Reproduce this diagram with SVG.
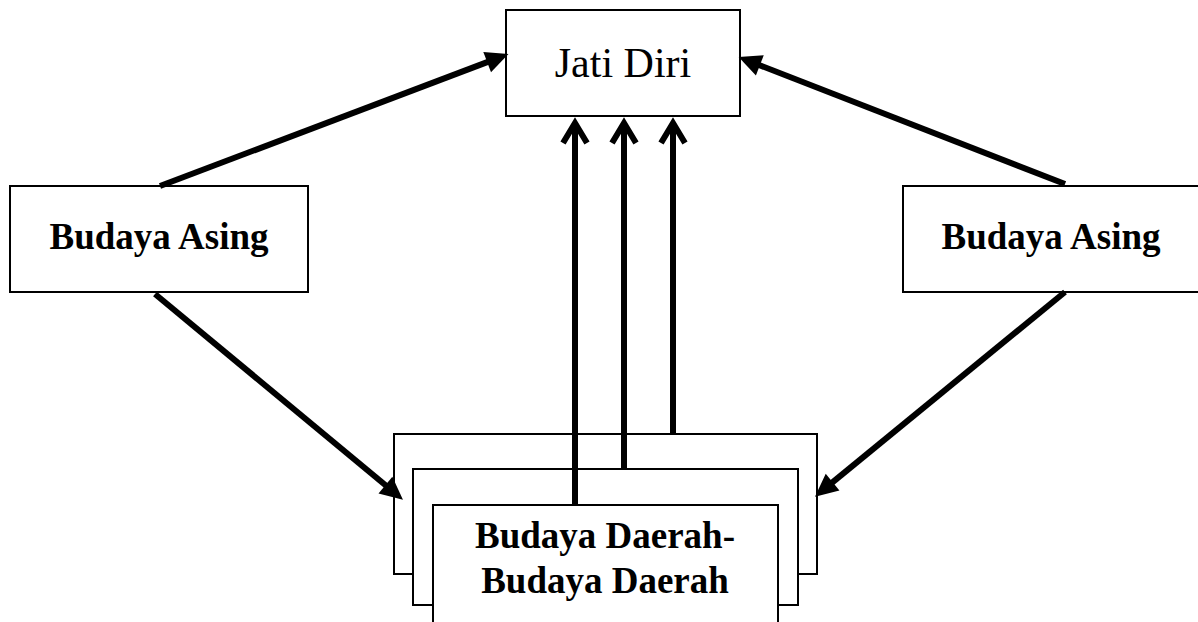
<svg xmlns="http://www.w3.org/2000/svg" width="1198" height="622" viewBox="0 0 1198 622">
<style>
.box{fill:#fff;stroke:#000;stroke-width:2}
.t{font-family:"Liberation Serif","Times New Roman",serif;fill:#000;text-anchor:middle}
.b{font-weight:bold;font-size:37px}
.c{stroke:#000;stroke-width:6;fill:none}
</style>
<defs>
<marker id="tri" markerUnits="userSpaceOnUse" markerWidth="26" markerHeight="26" viewBox="0 -11 24 22" refX="2" refY="0" orient="auto" overflow="visible">
<path d="M0,-10 L21,0 L0,10 Z" fill="#000"/>
</marker>
<marker id="chev" markerUnits="userSpaceOnUse" markerWidth="30" markerHeight="30" viewBox="-25 -15 30 30" refX="0" refY="0" orient="auto" overflow="visible">
<path d="M-20,-12 L0,0 L-20,12" fill="none" stroke="#000" stroke-width="6" stroke-linejoin="miter"/>
</marker>
</defs>
<rect width="1198" height="622" fill="#fff"/>
<g id="node-jati-diri">
<rect class="box" x="506" y="10" width="234" height="106"/>
<text class="t" x="623" y="77" font-size="42">Jati Diri</text>
</g>
<g id="node-budaya-asing-left">
<rect class="box" x="10" y="186" width="298" height="106"/>
<text class="t b" x="159" y="249">Budaya Asing</text>
</g>
<g id="node-budaya-asing-right">
<rect class="box" x="903" y="186" width="300" height="106"/>
<text class="t b" x="1051" y="249">Budaya Asing</text>
</g>
<g id="node-budaya-daerah-back">
<rect class="box" x="394" y="434" width="423" height="140"/>
</g>
<g id="node-budaya-daerah-middle">
<rect class="box" x="413" y="469" width="385" height="136"/>
</g>
<g id="node-budaya-daerah-front">
<rect class="box" x="433" y="505" width="345" height="130"/>
<text class="t b" x="605" y="548">Budaya Daerah-</text>
<text class="t b" x="605" y="593">Budaya Daerah</text>
</g>
<g id="connectors">
<line class="c" x1="160" y1="186" x2="489.2" y2="61.4" marker-end="url(#tri)"/>
<line class="c" x1="1065" y1="184" x2="757.8" y2="64.5" marker-end="url(#tri)"/>
<line class="c" x1="155" y1="294" x2="387.1" y2="486.5" marker-end="url(#tri)"/>
<line class="c" x1="1065" y1="292" x2="830.9" y2="483.6" marker-end="url(#tri)"/>
<line class="c" x1="575" y1="505" x2="575" y2="123" marker-end="url(#chev)"/>
<line class="c" x1="624" y1="469" x2="624" y2="123" marker-end="url(#chev)"/>
<line class="c" x1="673" y1="434" x2="673" y2="123" marker-end="url(#chev)"/>
</g>
</svg>
